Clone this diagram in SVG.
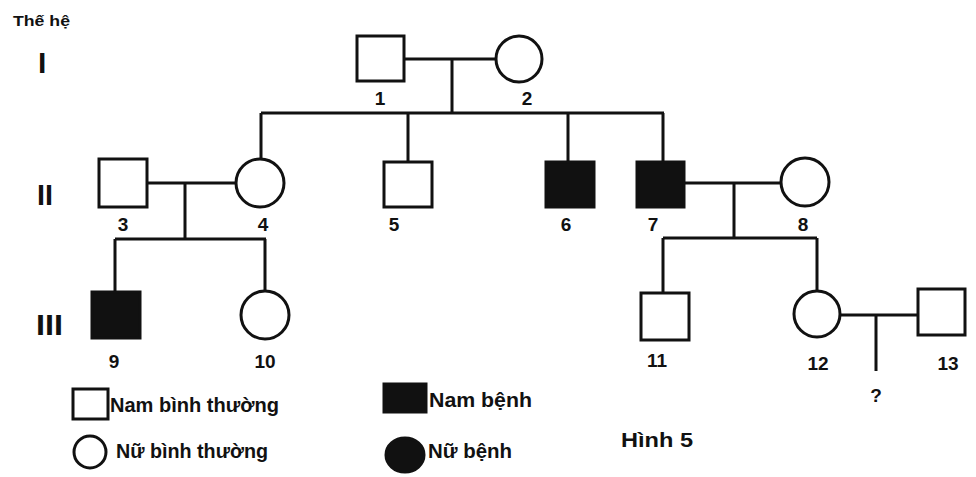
<svg xmlns="http://www.w3.org/2000/svg" width="976" height="477" viewBox="0 0 976 477">
<style>
.n{fill:#fff;stroke:#111;stroke-width:3}
.a{fill:#111;stroke:#111;stroke-width:3}
.c{fill:none;stroke:#111;stroke-width:3}
.t{font-family:"Liberation Sans",Arial,sans-serif;font-weight:bold;fill:#111}
.lb{font-size:19px;text-anchor:middle}
.gen{font-size:30px}
.lg{font-size:20px}
</style>
<rect width="976" height="477" fill="#fff"/>
<text class="t" x="13" y="26" font-size="15" textLength="57" lengthAdjust="spacingAndGlyphs">Thế hệ</text>
<text class="t gen" x="38" y="73">I</text>
<text class="t gen" x="37" y="205" textLength="16" lengthAdjust="spacingAndGlyphs">II</text>
<text class="t gen" x="36" y="335" textLength="27" lengthAdjust="spacingAndGlyphs">III</text>
<g id="connectors">
<path class="c" d="M404 59H497M452 59V113M261 113H664M261 113V159M408 113V162M568 113V162M663 113V162"/>
<path class="c" d="M147 183H236M185 183V239M115 239H266M115 239V292M265 239V291"/>
<path class="c" d="M684 183H781M734 183V238M663 238H817M663 238V293M817 238V291"/>
<path class="c" d="M840 315H918M876 315V371"/>
</g>
<g id="n1"><rect class="n" x="357" y="36" width="47" height="45"/><text class="t lb" x="380" y="105">1</text></g>
<g id="n2"><circle class="n" cx="519" cy="59" r="23"/><text class="t lb" x="527" y="105">2</text></g>
<g id="n3"><rect class="n" x="99" y="159" width="48" height="48"/><text class="t lb" x="123" y="231">3</text></g>
<g id="n4"><circle class="n" cx="260" cy="183" r="24"/><text class="t lb" x="263" y="231">4</text></g>
<g id="n5"><rect class="n" x="384" y="162" width="48" height="45"/><text class="t lb" x="394" y="231">5</text></g>
<g id="n6"><rect class="a" x="546" y="162" width="48" height="45"/><text class="t lb" x="566" y="231">6</text></g>
<g id="n7"><rect class="a" x="637" y="162" width="47" height="45"/><text class="t lb" x="653" y="231">7</text></g>
<g id="n8"><circle class="n" cx="805" cy="182" r="24"/><text class="t lb" x="803" y="231">8</text></g>
<g id="n9"><rect class="a" x="92" y="292" width="48" height="46"/><text class="t lb" x="114" y="368">9</text></g>
<g id="n10"><circle class="n" cx="265" cy="315" r="24"/><text class="t lb" x="265" y="368">10</text></g>
<g id="n11"><rect class="n" x="641" y="293" width="48" height="47"/><text class="t lb" x="657" y="367">11</text></g>
<g id="n12"><circle class="n" cx="817" cy="314" r="23"/><text class="t lb" x="818" y="370">12</text></g>
<g id="n13"><rect class="n" x="918" y="289" width="47" height="46"/><text class="t lb" x="948" y="370">13</text></g>
<g id="q"><text class="t lb" x="876" y="402">?</text></g>
<g id="legend">
<rect class="n" x="73" y="389" width="35" height="30"/>
<text class="t lg" x="110" y="412" textLength="169" lengthAdjust="spacingAndGlyphs">Nam bình thường</text>
<circle class="n" cx="90" cy="452" r="16"/>
<text class="t lg" x="116" y="458" textLength="152" lengthAdjust="spacingAndGlyphs">Nữ bình thường</text>
<rect class="a" x="384" y="384" width="42" height="28"/>
<text class="t lg" x="429" y="407" textLength="103" lengthAdjust="spacingAndGlyphs">Nam bệnh</text>
<ellipse class="a" cx="405" cy="455" rx="19" ry="17"/>
<text class="t lg" x="428" y="458" textLength="84" lengthAdjust="spacingAndGlyphs">Nữ bệnh</text>
<text class="t lg" x="621" y="447" textLength="72" lengthAdjust="spacingAndGlyphs">Hình 5</text>
</g>
</svg>
